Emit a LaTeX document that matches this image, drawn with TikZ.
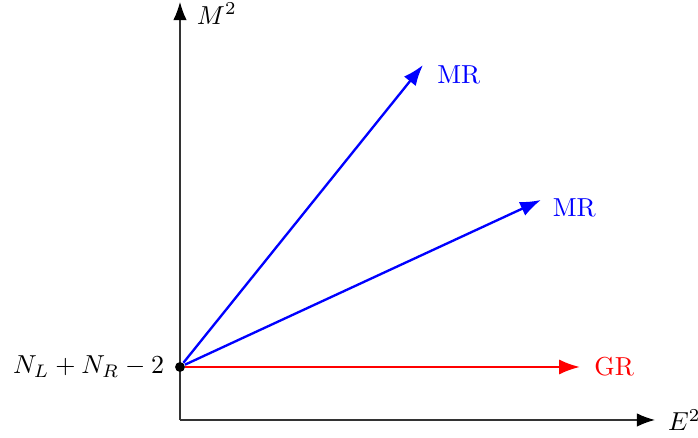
\documentclass[tikz,border=0pt]{standalone}
\usepackage{amsmath}
\usetikzlibrary{arrows.meta, positioning}

\begin{document}
\begin{tikzpicture}[
    x=0.3846pt, y=0.3846pt,
    axis/.style={line width=0.5pt, black!80, -{Latex[length=7pt, width=5.2pt, black]}},
    ray/.style={line width=0.9pt, -{Latex[length=8pt, width=5.8pt]}},
    dot/.style={circle, fill=black, inner sep=0pt, minimum size=3.8pt}
]
\useasboundingbox (-180,-18) rectangle (518,420);

% -------------------------
% AXES
% -------------------------
\coordinate (O) at (0,0);
\coordinate (Xtip) at (475,0);
\coordinate (Ytip) at (0,418);
\draw[axis] (O) -- (Xtip);
\draw[axis] (O) -- (Ytip);
\node[anchor=west, xshift=1.5pt] (Elabel) at (Xtip) {$E^2$};
\node[anchor=west, xshift=3pt, yshift=-4.5pt] (Mlabel) at (Ytip) {$M^2$};

% -------------------------
% RAYS
% -------------------------
\node[dot] (P) at (0,53) {};
\node[left=0.5pt of P] (Plabel) {$N_L + N_R - 2$};

\coordinate (MRtipA) at (243,355);
\coordinate (MRtipB) at (361,220);
\coordinate (GRtip) at (400,53);

\draw[ray, blue] (P) -- (MRtipA);
\draw[ray, blue] (P) -- (MRtipB);
\draw[ray, red] (P) -- (GRtip);

\node[blue, anchor=west, xshift=2pt, yshift=-4pt] (MRa) at (MRtipA) {MR};
\node[blue, anchor=west, xshift=1pt, yshift=-3pt] (MRb) at (MRtipB) {MR};
\node[red, anchor=west, xshift=2pt] (GR) at (GRtip) {GR};

\end{tikzpicture}
\end{document}
